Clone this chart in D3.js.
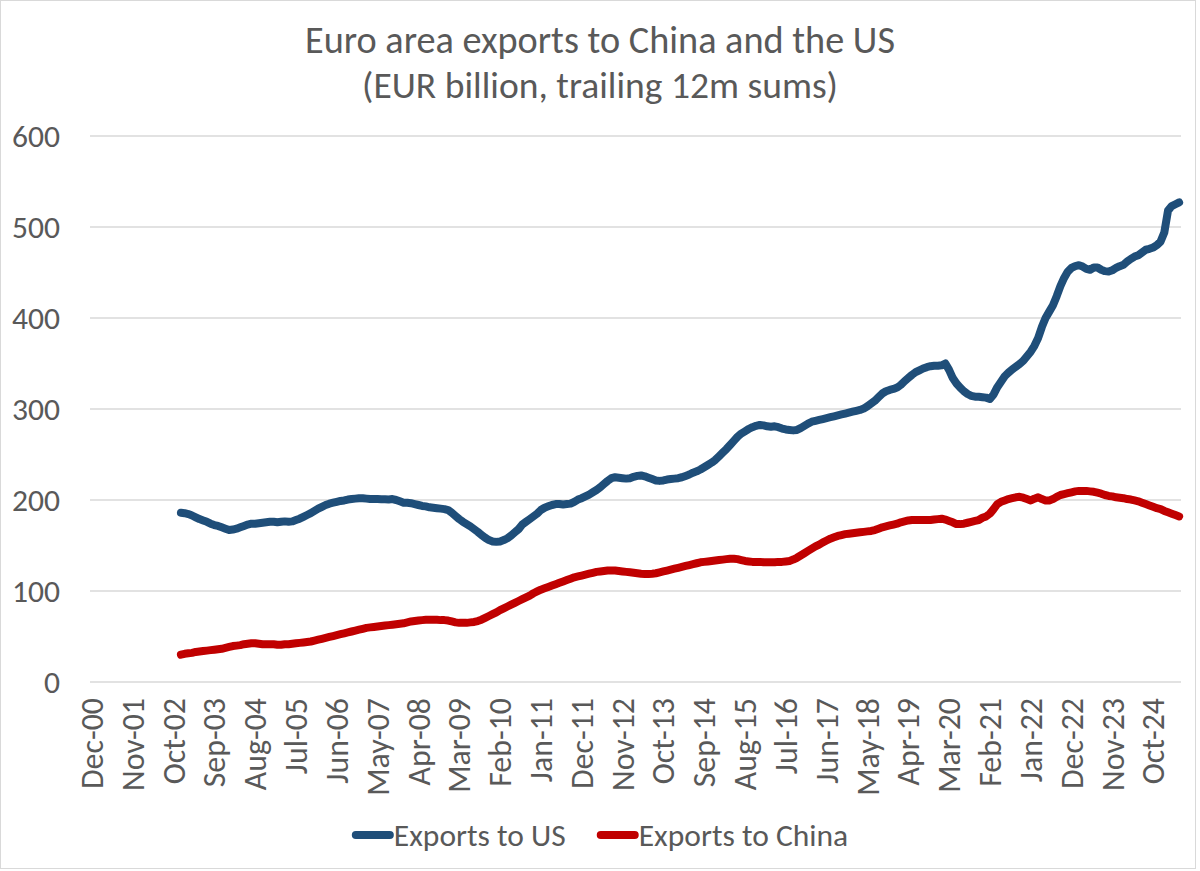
<!DOCTYPE html>
<html lang="en">
<head>
<meta charset="utf-8">
<title>Euro area exports to China and the US</title>
<script src="https://cdn.jsdelivr.net/npm/d3@7"></script>
<style>
  body { margin: 0; background: #fff; }
  svg text { font-family: Carlito, Calibri, Lato, sans-serif; fill: #595959; }
</style>
</head>
<body>
<div id="chart"></div>
<script>
// trailing 12m sums, EUR bn, monthly from Dec-02 to May-25
var firstMonth = "2002-12";

var usExports = [
  186,
  185.5, 184.5, 183, 181, 179, 177.5, 176, 174, 172.5, 171.5, 170, 168.5,
  167, 167.5, 168.5, 170, 171.5, 173, 174, 174, 174.5, 175, 175.5, 176,
  176, 175.5, 176, 176.5, 176, 176.5, 178, 179.5, 181.5, 183.5, 185.5, 188,
  190.5, 192.5, 194.5, 196, 197, 198, 199, 199.5, 200.5, 201, 201.5, 202,
  202, 201.5, 201, 201, 201, 200.8, 200.8, 200.5, 201, 200, 198.5, 197,
  197, 196.5, 195.5, 194.5, 193.5, 193, 192, 191.5, 191, 190.5, 190, 189,
  186, 182.5, 179, 176, 173.5, 171, 168, 165, 161.5, 158.5, 156, 154.5,
  154, 154.5, 156, 158, 161, 164.5, 168, 173, 176, 179, 182, 185,
  189, 191.5, 193, 194.5, 195.5, 195.5, 195, 195.5, 196, 198, 200.5, 202,
  204, 206, 208.5, 211, 214, 217.5, 221, 224, 225, 224.5, 224, 223.5,
  224, 225.5, 226.5, 227, 226, 224.5, 223, 221.5, 221, 221.5, 222.5, 223,
  223.5, 224, 225, 226.5, 228, 230, 231.5, 233.5, 236, 238.5, 241, 244,
  248, 252, 256, 260.5, 265, 269.5, 273, 275.5, 278, 280, 281.5, 282.5,
  282, 281, 280.5, 281, 280, 278.5, 277.5, 277, 276.5, 277, 279, 281.5,
  284, 286, 287, 288, 289, 290, 291, 292, 293, 294, 295, 296,
  297, 298, 299, 300.5, 303, 306, 309, 313, 317, 319.5, 321, 322,
  323.5, 326.5, 330.5, 334, 337.5, 340.5, 342.5, 344.5, 346, 347, 347.5, 347.5,
  348, 350, 343, 334, 328, 323.5, 319.5, 316.5, 314.5, 313.5, 313.5, 313,
  312.5, 311, 316, 324, 330, 336, 340, 343.5, 346.5, 349.5, 353, 358,
  363, 369.5, 378, 390, 400, 407, 414, 424, 435, 444, 451, 455,
  457, 458, 456.5, 454, 453, 455.5, 455.5, 453, 451.5, 451, 452.5, 455,
  457, 458.5, 462, 465, 467.5, 469, 472, 475, 476, 477.5, 480, 484,
  494, 518, 523, 525, 527
];

var chinaExports = [
  30,
  31, 31.5, 32, 33, 33.5, 34, 34.5, 35, 35.5, 36, 36.5, 37.5,
  38.5, 39.5, 40, 40.5, 41.5, 42, 42.5, 42.5, 42, 41.5, 41.5, 41.5,
  41.5, 41, 41, 41.5, 41.5, 42, 42.5, 43, 43.5, 44, 44.5, 45.5,
  46.5, 47.5, 48.5, 49.5, 50.5, 51.5, 52.5, 53.5, 54.5, 55.5, 56.5, 57.5,
  58.5, 59.5, 60, 60.5, 61, 61.5, 62, 62.5, 63, 63.5, 64, 64.5,
  65.5, 66.5, 67, 67.5, 68, 68.3, 68.5, 68.5, 68.3, 68, 68, 67.5,
  66.5, 65.5, 65, 65, 65, 65.5, 66, 67, 68.5, 70.5, 72.5, 74.5,
  76.5, 79, 81, 83, 85, 87, 89, 91, 93, 95, 97.5, 99.5,
  101.5, 103, 104.5, 106, 107.5, 109, 110.5, 112, 113.5, 115, 116, 117,
  118, 119, 120, 121, 121.5, 122, 122.5, 122.5, 122.5, 122, 121.5, 121,
  120.5, 120, 119.5, 119, 118.8, 118.7, 119, 119.5, 120.5, 121.5, 122.5, 123.5,
  124.5, 125.5, 126.5, 127.5, 128.5, 129.5, 130.5, 131.5, 132, 132.5, 133, 133.5,
  134, 134.5, 135, 135.5, 135.5, 135, 134, 133, 132.5, 132, 132, 132,
  131.5, 131.5, 131.5, 131.5, 132, 132, 132.5, 133, 134.5, 136.5, 139, 141.5,
  144, 146.5, 149, 151, 153.5, 155.5, 157.5, 159, 160.5, 161.5, 162.5, 163,
  163.5, 164, 164.5, 165, 165.5, 166, 167, 168.5, 170, 171, 172, 173,
  174, 175.5, 176.5, 177.5, 178, 178, 178, 178, 178, 178, 178.5, 179,
  179.5, 178.5, 177, 175.5, 173.5, 173.5, 174, 175, 176, 177, 178, 180.5,
  182, 185, 190, 195.5, 198, 199.5, 201, 202, 203, 203.5, 202.5, 201,
  199.5, 201.5, 203, 201, 199.5, 199.5, 201, 203.5, 205.5, 206.5, 207.5, 208.5,
  209.5, 210, 210, 210, 209.5, 209, 208, 207, 205.5, 204.5, 204, 203,
  202.5, 202, 201, 200.5, 199.5, 198.5, 197, 195.5, 194, 192.5, 191, 190,
  188, 186.5, 185, 183.5, 182
];

var tickLabels = ["Dec-00", "Nov-01", "Oct-02", "Sep-03", "Aug-04", "Jul-05", "Jun-06",
  "May-07", "Apr-08", "Mar-09", "Feb-10", "Jan-11", "Dec-11", "Nov-12", "Oct-13",
  "Sep-14", "Aug-15", "Jul-16", "Jun-17", "May-18", "Apr-19", "Mar-20", "Feb-21",
  "Jan-22", "Dec-22", "Nov-23", "Oct-24"];
var yTicks = [0, 100, 200, 300, 400, 500, 600];
var seriesNames = ["Exports to US", "Exports to China"];
var seriesColors = ["#1F4E79", "#C00000"];
var titleLines = ["Euro area exports to China and the US", "(EUR billion, trailing 12m sums)"];

var w = 1200, h = 871;
var plot = {left: 90, right: 1181, top: 136, bottom: 682};

var svg = d3.select("#chart").append("svg")
  .attr("width", w).attr("height", h);

svg.append("rect")
  .attr("x", 0.5).attr("y", 0.5)
  .attr("width", 1195).attr("height", 868)
  .attr("fill", "#fff").attr("stroke", "#d9d9d9");

// font size that makes a sample string a given width
function sizeFor(text, width) {
  var t = svg.append("text").attr("font-size", 100).text(text);
  var len = t.node().getComputedTextLength();
  t.remove();
  return 100 * width / len;
}

var fmt = d3.timeFormat("%b-%y");
var months = d3.timeMonth.range(new Date(2000, 11, 1), new Date(2025, 5, 1));
var cats = months.map(fmt);

var x = d3.scaleBand().domain(cats).range([plot.left, plot.right]).padding(0);
var y = d3.scaleLinear().domain([0, 600]).range([plot.bottom, plot.top]);
function cx(c) { return x(c) + x.bandwidth() / 2; }

// grid + y labels
var ySize = sizeFor("600", 48);
svg.append("g").selectAll("line").data(yTicks).enter().append("line")
  .attr("x1", plot.left).attr("x2", plot.right)
  .attr("y1", function(d) { return y(d); }).attr("y2", function(d) { return y(d); })
  .attr("stroke", "#d9d9d9").attr("stroke-width", 1.3);

svg.append("g").selectAll("text").data(yTicks).enter().append("text")
  .attr("x", 60).attr("y", function(d) { return y(d); })
  .attr("dy", "0.35em").attr("text-anchor", "end")
  .attr("font-size", ySize)
  .text(function(d) { return d; });

// x labels, rotated
var xSize = sizeFor("Dec-00", 91);
svg.append("g").selectAll("text").data(tickLabels).enter().append("text")
  .attr("transform", function(d) { return "translate(" + cx(d) + ",698) rotate(-90)"; })
  .attr("dy", "0.35em").attr("text-anchor", "end")
  .attr("font-size", xSize)
  .text(function(d) { return d; });

// series
var start = cats.indexOf(fmt(d3.timeParse("%Y-%m")(firstMonth)));
var series = [usExports, chinaExports];
var line = d3.line()
  .x(function(d, i) { return cx(cats[start + i]); })
  .y(function(d) { return y(d); });

svg.append("g").selectAll("path").data(series).enter().append("path")
  .attr("d", line)
  .attr("fill", "none")
  .attr("stroke", function(d, i) { return seriesColors[i]; })
  .attr("stroke-width", 8)
  .attr("stroke-linejoin", "round")
  .attr("stroke-linecap", "round");

// title
var tSizes = [sizeFor(titleLines[0], 590), sizeFor(titleLines[1], 476)];
svg.append("g").selectAll("text").data(titleLines).enter().append("text")
  .attr("x", 600).attr("y", function(d, i) { return i == 0 ? 53 : 98; })
  .attr("text-anchor", "middle")
  .attr("font-size", function(d, i) { return tSizes[i]; })
  .text(function(d) { return d; });

// legend
var lgSize = sizeFor(seriesNames[0], 172);
var lg = svg.append("g");
var lx = 0;
seriesNames.forEach(function(name, i) {
  lg.append("line")
    .attr("x1", lx + 4).attr("x2", lx + 38).attr("y1", 0).attr("y2", 0)
    .attr("stroke", seriesColors[i]).attr("stroke-width", 8)
    .attr("stroke-linecap", "round");
  var t = lg.append("text").attr("x", lx + 42).attr("y", 0).attr("dy", "0.35em")
    .attr("font-size", lgSize).text(name);
  lx += 42 + t.node().getComputedTextLength() + 31;
});
lx -= 31;
lg.attr("transform", "translate(" + (600 - lx / 2) + ",835)");
</script>
</body>
</html>
